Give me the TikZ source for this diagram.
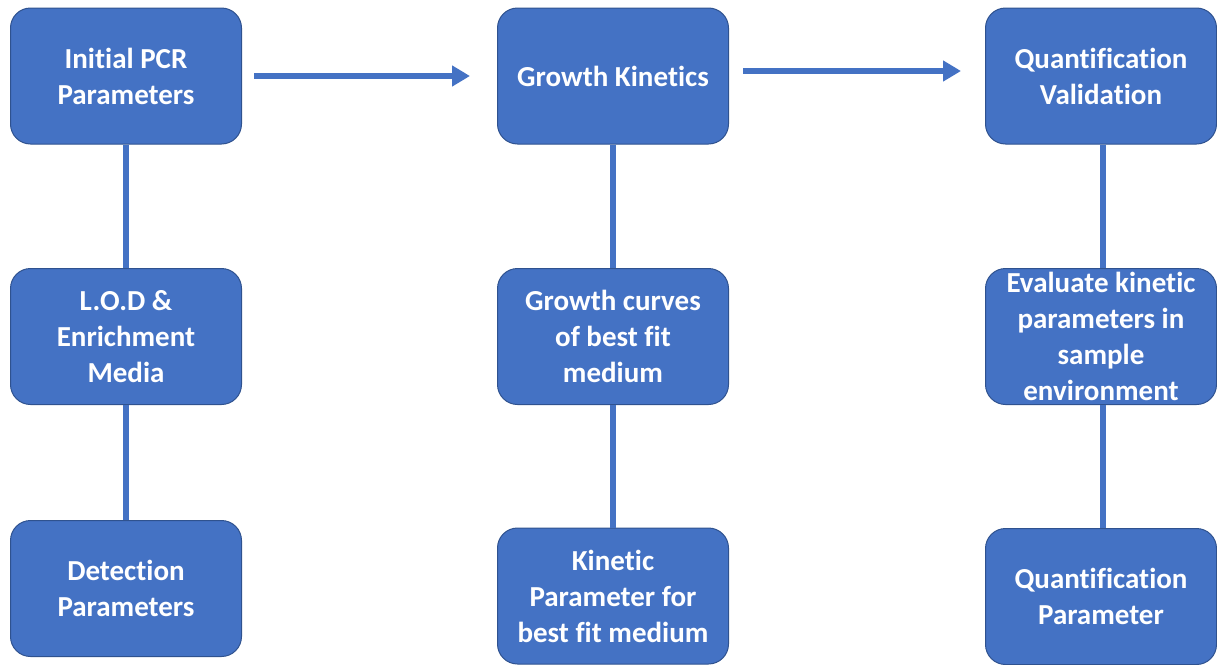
\documentclass[tikz,border=0pt]{standalone}
\usepackage{fontspec}
\setmainfont{Carlito}[Ligatures=NoCommon]
\usetikzlibrary{arrows.meta}
\definecolor{boxfill}{HTML}{4472C4}
\definecolor{boxline}{HTML}{2F528F}
\tikzset{
  box/.style={draw=boxline, line width=1pt, fill=boxfill, rounded corners=20pt,
    minimum width=231pt, minimum height=136pt, inner sep=0pt, align=center,
    text=white, font=\fontsize{29}{36}\selectfont\bfseries},
  link/.style={draw=boxfill, line width=6pt},
  flow/.style={link, -{Triangle[length=18pt,width=20pt]}}
}
\begin{document}
\begin{tikzpicture}[x=1pt,y=-1pt]
\useasboundingbox (0,0) rectangle (1217,664);
\node[box] (pcr) at (126,76) {Initial PCR\\Parameters};
\node[box] (lod) at (126,336.5) {L.O.D \&\\Enrichment\\Media};
\node[box] (det) at (126,588.5) {Detection\\Parameters};
\node[box] (gk) at (613,76) {Growth Kinetics};
\node[box] (gc) at (613,336.5) {Growth curves\\of best fit\\medium};
\node[box] (kp) at (613,596) {Kinetic\\Parameter for\\best fit medium};
\node[box] (qv) at (1101,76) {Quantification\\Validation};
\node[box] (ev) at (1101,336.5) {Evaluate kinetic\\parameters in\\sample\\environment};
\node[box] (qp) at (1101,596.5) {Quantification\\Parameter};
\draw[link] (pcr.south) -- (lod.north);
\draw[link] (lod.south) -- (det.north);
\draw[link] (gk.south) -- (gc.north);
\draw[link] (gc.south) -- (kp.north);
\draw[link] ([xshift=2pt]qv.south) -- ([xshift=2pt]ev.north);
\draw[link] ([xshift=2pt]ev.south) -- ([xshift=2pt]qp.north);
\draw[flow, shorten <=12pt, shorten >=27pt] (pcr.east) -- (gk.west);
\draw[flow, shorten <=14pt, shorten >=24pt] ([yshift=5pt]gk.east) -- ([yshift=5pt]qv.west);
\end{tikzpicture}
\end{document}
